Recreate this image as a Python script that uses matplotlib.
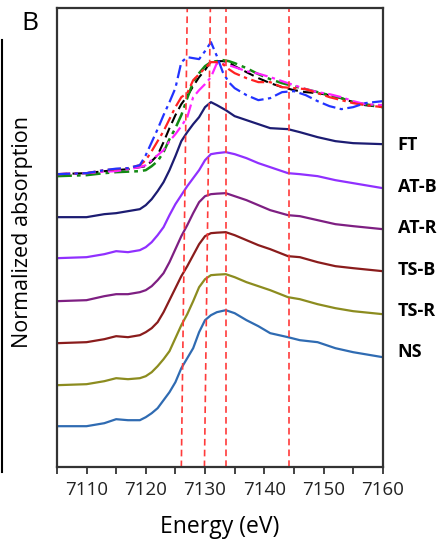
import matplotlib.pyplot as plt
from matplotlib.lines import Line2D
from matplotlib.ticker import MultipleLocator

plt.rcParams['font.family'] = ['Open Sans', 'DejaVu Sans']

# energy grid (eV) for the stacked solid spectra
energy = [7105, 7110, 7113, 7115, 7117, 7119, 7120, 7121, 7122, 7123, 7124,
          7125, 7126, 7127, 7128, 7129, 7130, 7131, 7132, 7133.5, 7135, 7137,
          7139, 7141, 7144, 7146, 7149, 7152, 7155, 7160]

ns = [0.41, 0.41, 0.44, 0.48, 0.47, 0.47, 0.50, 0.54, 0.59, 0.67, 0.75,
      0.85, 0.99, 1.09, 1.19, 1.35, 1.47, 1.52, 1.55, 1.57, 1.54, 1.47,
      1.41, 1.34, 1.30, 1.27, 1.25, 1.19, 1.15, 1.10]
ts_r = [0.82, 0.83, 0.86, 0.89, 0.88, 0.89, 0.91, 0.95, 1.01, 1.08, 1.16,
        1.29, 1.42, 1.53, 1.66, 1.80, 1.88, 1.92, 1.925, 1.93, 1.90, 1.85,
        1.81, 1.77, 1.70, 1.68, 1.63, 1.59, 1.56, 1.53]
ts_b = [1.24, 1.25, 1.28, 1.31, 1.30, 1.32, 1.35, 1.39, 1.45, 1.55, 1.67,
        1.79, 1.91, 2.01, 2.12, 2.23, 2.31, 2.34, 2.345, 2.35, 2.32, 2.27,
        2.22, 2.18, 2.11, 2.10, 2.05, 2.01, 1.99, 1.96]
at_r = [1.66, 1.67, 1.71, 1.73, 1.73, 1.75, 1.77, 1.81, 1.87, 1.94, 2.05,
        2.18, 2.31, 2.42, 2.54, 2.65, 2.71, 2.73, 2.735, 2.74, 2.71, 2.67,
        2.62, 2.57, 2.52, 2.51, 2.47, 2.43, 2.41, 2.38]
at_b = [2.09, 2.10, 2.13, 2.16, 2.15, 2.17, 2.20, 2.25, 2.32, 2.40, 2.52,
        2.63, 2.72, 2.81, 2.89, 2.97, 3.07, 3.13, 3.14, 3.15, 3.13, 3.09,
        3.04, 3.00, 2.94, 2.93, 2.91, 2.87, 2.84, 2.79]
ft = [2.50, 2.50, 2.53, 2.54, 2.56, 2.58, 2.62, 2.68, 2.76, 2.85, 2.97,
      3.11, 3.26, 3.35, 3.43, 3.50, 3.60, 3.65, 3.62, 3.57, 3.51, 3.47,
      3.43, 3.39, 3.38, 3.35, 3.30, 3.26, 3.24, 3.23]

# reference spectra (top group, not offset)
energy_ref = [7105, 7110, 7113, 7115, 7117, 7119, 7120, 7121, 7122, 7123, 7124,
              7125, 7126, 7127, 7128, 7129, 7130, 7131, 7132, 7133, 7134, 7135,
              7137, 7139, 7141, 7143, 7145, 7147, 7149, 7151, 7153, 7155, 7157, 7160]
ref_blue = [2.93, 2.94, 2.97, 2.985, 2.99, 3.02, 3.12, 3.25, 3.38, 3.52, 3.65,
            3.79, 4.05, 4.10, 4.09, 4.08, 4.16, 4.25, 4.11, 3.95, 3.85, 3.79,
            3.72, 3.67, 3.69, 3.75, 3.76, 3.72, 3.66, 3.61, 3.58, 3.60, 3.64, 3.66]
ref_red = [2.93, 2.94, 2.97, 2.98, 2.99, 3.02, 3.07, 3.16, 3.26, 3.36, 3.48,
           3.60, 3.70, 3.74, 3.87, 3.93, 3.99, 4.05, 4.05, 4.03, 3.98, 3.94,
           3.89, 3.85, 3.85, 3.80, 3.79, 3.78, 3.74, 3.70, 3.67, 3.64, 3.62, 3.60]
ref_black = [2.93, 2.94, 2.96, 2.97, 2.98, 3.00, 3.01, 3.06, 3.12, 3.25, 3.39,
             3.52, 3.63, 3.71, 3.81, 3.90, 3.97, 4.06, 4.06, 4.06, 4.05, 4.01,
             3.95, 3.89, 3.84, 3.80, 3.77, 3.75, 3.74, 3.72, 3.69, 3.65, 3.62, 3.60]
ref_green = [2.91, 2.92, 2.94, 2.95, 2.955, 2.96, 2.97, 3.01, 3.06, 3.15, 3.28,
             3.39, 3.52, 3.69, 3.85, 3.94, 4.01, 4.05, 4.06, 4.07, 4.06, 4.04,
             3.99, 3.93, 3.88, 3.84, 3.81, 3.78, 3.75, 3.72, 3.69, 3.65, 3.63, 3.60]
ref_magenta = [2.93, 2.94, 2.955, 2.96, 2.98, 3.00, 3.02, 3.07, 3.12, 3.17, 3.26,
               3.33, 3.41, 3.50, 3.70, 3.77, 3.83, 3.90, 4.04, 4.03, 4.02, 4.00,
               3.96, 3.935, 3.90, 3.86, 3.82, 3.78, 3.75, 3.73, 3.70, 3.66, 3.63, 3.62]

# dashed marker lines: (energy at bottom, energy at top)
markers = [(7126.0, 7127.0), (7129.9, 7130.9), (7133.6, 7133.6), (7144.2, 7144.2)]

labels = ['FT', 'AT-B', 'AT-R', 'TS-B', 'TS-R', 'NS']
label_y = [3.22, 2.80, 2.39, 1.97, 1.56, 1.15]

fig = plt.figure(figsize=(4.41, 5.42), dpi=100)
ax = fig.add_axes([0.129, 0.138, 0.739, 0.847])

dashdot = (0, (6, 2, 1.5, 2))
ax.plot(energy_ref, ref_black, color='black', lw=1.5, ls=(0, (5, 2.5)))
ax.plot(energy_ref, ref_green, color='#138a13', lw=1.8, ls=dashdot)
ax.plot(energy_ref, ref_magenta, color='#ff22ff', lw=1.6, ls=dashdot)
ax.plot(energy_ref, ref_red, color='#ff2222', lw=1.6, ls=dashdot)
ax.plot(energy_ref, ref_blue, color='#2233ff', lw=1.6, ls=dashdot)

ax.plot(energy, ft, color='#1c1c72', lw=1.6)
ax.plot(energy, at_b, color='#9030ff', lw=1.6)
ax.plot(energy, at_r, color='#7e1f82', lw=1.6)
ax.plot(energy, ts_b, color='#8a1c1c', lw=1.6)
ax.plot(energy, ts_r, color='#8c8c1f', lw=1.6)
ax.plot(energy, ns, color='#2f6bb2', lw=1.6)

for lo, hi in markers:
    ax.plot([lo, hi], [0, 4.59], color='#ff3b3b', lw=1.2, ls=(0, (4, 2.5)))

ax.set_xlim(7105, 7160)
ax.set_ylim(0, 4.59)
ax.xaxis.set_major_locator(MultipleLocator(10))
ax.xaxis.set_minor_locator(MultipleLocator(5))
ax.set_yticks([])
ax.tick_params(axis='x', which='both', direction='out', length=5, width=1.2,
               labelsize=13.5, colors='#222222', pad=5)
for sp in ax.spines.values():
    sp.set_color('#333333')
    sp.set_linewidth(1.6)

fig.text(0.499, 0.028, 'Energy (eV)', fontsize=16.5, ha='center', va='center')
fig.text(0.052, 0.572, 'Normalized absorption', fontsize=15.5, rotation=90,
         ha='center', va='center')

for lab, y in zip(labels, label_y):
    ax.text(7162.5, y, lab, fontsize=13, fontweight='bold', va='center', ha='left')

fig.text(0.048, 0.956, 'B', fontsize=19, va='center', ha='left')
fig.add_artist(Line2D([0.005, 0.005], [0.129, 0.926], color='black', lw=1.5,
                      transform=fig.transFigure))

fig.savefig('out.png', dpi=100)
